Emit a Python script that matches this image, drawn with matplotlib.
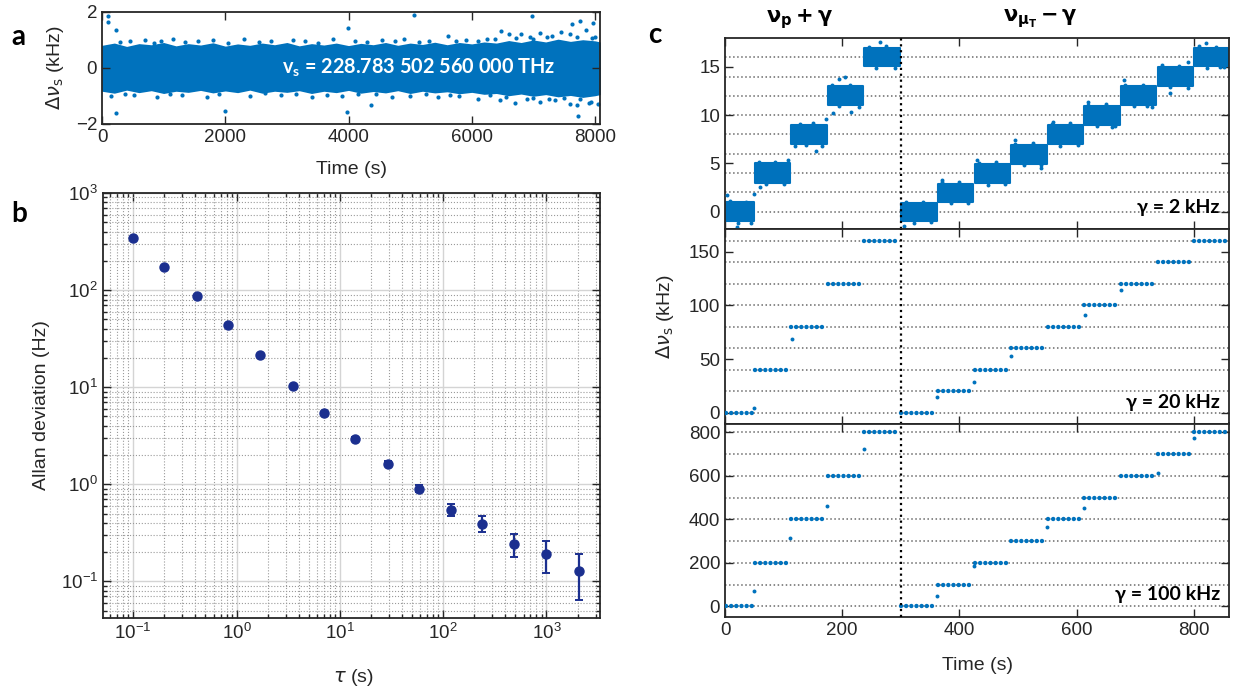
import matplotlib.pyplot as plt
import numpy as np

plt.rcParams["font.family"] = "Liberation Sans"
plt.rcParams["font.size"] = 13.5
plt.rcParams["axes.linewidth"] = 1.3

blue = "#0072BD"
navy = "#1B2F8F"
ink = "#262626"

# ---------------- panel a : frequency record (band envelope + scattered points)
a_env_t = [0, 200, 400, 600, 800, 1000, 1200, 1400, 1600, 1800, 2000, 2200, 2400, 2600, 2800,
           3000, 3200, 3400, 3600, 3800, 4000, 4200, 4400, 4600, 4800, 5000, 5200, 5400, 5600,
           5800, 6000, 6200, 6400, 6600, 6800, 7000, 7200, 7400, 7600, 7800, 8000, 8080]
a_env_hi = [0.78, 0.86, 0.74, 0.84, 0.80, 0.88, 0.76, 0.84, 0.79, 0.87, 0.75, 0.83, 0.78, 0.86,
            0.80, 0.88, 0.76, 0.84, 0.79, 0.86, 0.77, 0.85, 0.80, 0.88, 0.78, 0.86, 0.81, 0.89,
            0.80, 0.88, 0.83, 0.90, 0.86, 0.95, 0.88, 0.97, 0.90, 1.00, 0.92, 0.98, 0.94, 0.90]
a_env_lo = [-0.80, -0.87, -0.76, -0.85, -0.78, -0.88, -0.80, -0.84, -0.77, -0.86, -0.79, -0.85,
            -0.76, -0.87, -0.80, -0.84, -0.78, -0.88, -0.80, -0.85, -0.77, -0.87, -0.81, -0.86,
            -0.78, -0.88, -0.80, -0.86, -0.82, -0.89, -0.84, -0.91, -0.88, -0.96, -0.90, -0.98,
            -0.92, -1.00, -0.95, -1.02, -0.96, -0.92]
a_dot_t = [460, 700, 960, 1150, 1550, 1800, 2300, 2750, 3100, 3300, 3750, 4100, 4550, 4900, 5300, 5620,
           5900, 6250, 6480, 6600, 6800, 6950, 7100, 7300, 7450, 7600, 7850, 8000,
           300, 850, 1350, 2050, 2550, 3500, 4300, 4750, 5150, 5750, 6100, 6380, 6720, 7000, 7220, 7700, 7950,
           150, 520, 900, 1300, 1700, 2400, 2900, 3400, 3900, 4700, 5000, 5450, 5800, 6100, 6450,
           6700, 6900, 7100, 7350, 7600, 7900, 8050,
           380, 1100, 1900, 2650, 3150, 3650, 4150, 4450, 5250, 5650, 6300, 6550, 7000, 7250, 7500, 7750,
           90, 90, 225, 225, 2000, 3990, 3980, 4370, 5060, 6980, 7630, 7760, 7970, 7730, 7700, 7940]
a_dot_v = [0.98, 1.0, 0.95, 1.02, 0.98, 1.0, 1.05, 0.97, 1.0, 0.95, 1.02, 0.98, 1.0, 1.05, 0.98, 1.15,
           1.0, 1.05, 1.32, 1.2, 1.21, 1.1, 1.25, 1.15, 1.3, 1.2, 1.35, 1.1,
           0.92, 0.9, 0.93, 0.91, 0.94, 0.9, 0.92, 0.95, 0.93, 0.96, 0.98, 1.05, 1.08, 1.02, 1.12, 1.1, 1.06,
           -1.0, -0.98, -1.05, -0.97, -1.02, -1.0, -0.98, -1.05, -1.0, -1.02, -1.0, -1.05, -1.0, -1.1, -1.15,
           -1.25, -1.1, -1.2, -1.15, -1.3, -1.25, -1.3,
           -0.93, -0.92, -0.94, -0.91, -0.93, -0.95, -0.92, -0.94, -0.93, -0.96, -0.98, -1.05, -1.08,
           -1.12, -1.06, -1.1,
           1.86, 1.64, 1.36, -1.6, -1.55, 1.44, -1.58, -1.32, 1.88, 1.86, 1.56, 1.68, 1.6, -1.72, -1.32, -1.21]

# ---------------- panel b : Allan deviation
tau = [0.1, 0.2, 0.41, 0.83, 1.7, 3.5, 7.0, 14, 29, 59, 118, 240, 490, 1000, 2050]
adev = [346, 173, 87, 43.5, 21.7, 10.4, 5.4, 2.96, 1.63, 0.90, 0.55, 0.39, 0.24, 0.19, 0.128]
adev_lo = [346, 173, 87, 43.5, 21.7, 10.4, 5.4, 2.86, 1.53, 0.83, 0.47, 0.32, 0.178, 0.122, 0.064]
adev_hi = [346, 173, 87, 43.5, 21.7, 10.4, 5.4, 3.06, 1.73, 0.98, 0.62, 0.47, 0.305, 0.26, 0.193]

# ---------------- panel c : step sequences
t_left = [0, 50, 112, 175, 237, 300]
t_right = [300, 362, 425, 487, 550, 612, 675, 737, 800, 860]

c1_left_lo = [-1.0, 3.0, 7.0, 11.1, 15.1]
c1_left_hi = [0.95, 5.0, 9.0, 13.0, 17.0]
c1_right_lo = [-1.0, 1.0, 2.95, 4.95, 7.0, 9.0, 11.05, 13.05, 15.1]
c1_right_hi = [0.9, 2.9, 4.9, 6.9, 8.95, 10.95, 13.0, 15.0, 17.0]
c1_dot_t = [3, 20, 50, 60, 108, 120, 155, 172, 185, 195, 205, 215, 265,
            305, 370, 430, 495, 540, 560, 620, 660, 680, 720, 760, 790, 820, 845,
            8, 22, 35, 44, 58, 70, 85, 100, 128, 138, 150, 166, 183, 194, 213, 228,
            245, 258, 275, 290, 308, 322, 338, 352, 370, 385, 400, 415, 433, 448, 462, 478,
            495, 510, 525, 540, 558, 572, 588, 603, 620, 635, 650, 665, 683, 698, 713, 728,
            745, 760, 775, 790, 808, 822, 838, 852]
c1_dot_v = [1.7, -1.6, 1.8, 2.6, 5.4, 6.8, 6.3, 9.6, 10.2, 13.7, 14.0, 10.3, 17.6,
            -1.5, 3.3, 5.4, 7.4, 4.5, 9.3, 11.4, 8.8, 13.6, 10.9, 12.3, 15.5, 17.5, 15.0,
            1.1, -1.2, 1.05, -1.15, 5.15, 2.85, 5.1, 2.9, 9.1, 6.9, 9.15, 6.85, 13.1, 10.9, 13.15, 10.85,
            17.1, 14.9, 17.15, 14.85, 1.05, -1.15, 1.0, -1.1, 3.05, 0.85, 3.1, 0.9, 5.05, 2.8, 5.1, 2.85,
            7.05, 4.8, 7.1, 4.85, 9.1, 6.85, 9.15, 6.9, 11.1, 8.85, 11.15, 8.9, 13.1, 10.9, 13.15, 10.85,
            15.15, 12.9, 15.1, 12.85, 17.15, 14.9, 17.1, 14.95]
c1_grid = [0, 2, 4, 6, 8, 10, 12, 14, 16]

c2_left = [0, 40, 80, 120, 160]
c2_right = [0, 20, 40, 60, 80, 100, 120, 140, 160]
c2_dot_t = [49, 114, 362, 425, 488, 614, 675]
c2_dot_v = [4, 69, 15, 29, 53, 91, 114]
c2_grid = [0, 20, 40, 60, 80, 100, 120, 140, 160]

c3_left = [0, 200, 400, 600, 800]
c3_right = [0, 100, 200, 300, 400, 500, 600, 700, 800]
c3_dot_t = [49, 111, 174, 238, 362, 425, 549, 612, 738, 801]
c3_dot_v = [71, 315, 462, 725, 46, 187, 366, 451, 614, 775]
c3_grid = [0, 100, 200, 300, 400, 500, 600, 700, 800]

W, H = 1238, 692
fig = plt.figure(figsize=(W / 100, H / 100), dpi=100)


def box(x0, y0, x1, y1):
    return [x0 / W, 1 - y1 / H, (x1 - x0) / W, (y1 - y0) / H]


def style(ax):
    ax.tick_params(which="both", direction="in", top=True, right=True, colors=ink,
                   labelcolor=ink, width=1.0)
    ax.tick_params(which="major", length=6)
    ax.tick_params(which="minor", length=3)
    for s in ax.spines.values():
        s.set_color(ink)


bold = dict(family=["Lato", "DejaVu Sans"], fontweight="bold")

# ---- a
axa = fig.add_axes(box(102, 12, 600, 124))
axa.fill_between(a_env_t, a_env_lo, a_env_hi, color=blue, lw=1.2, edgecolor=blue)
axa.scatter(a_dot_t, a_dot_v, s=9, color=blue, lw=0)
axa.set_xlim(0, 8080)
axa.set_ylim(-2, 2)
axa.set_xticks([0, 2000, 4000, 6000, 8000])
axa.set_yticks([-2, 0, 2])
style(axa)
axa.text(0.362, 0.5, r"v$_\mathregular{s}$ = 228.783 502 560 000 THz", transform=axa.transAxes,
         color="white", fontsize=14.3, va="center", ha="left", **bold)
fig.text(55 / W, 1 - 68 / H, r"$\Delta\nu_{\mathrm{s}}$ (kHz)", rotation=90, ha="center", va="center",
         fontsize=14, color=ink)
fig.text(351 / W, 1 - 170 / H, "Time (s)", ha="center", va="center", fontsize=14, color=ink)

# ---- b
axb = fig.add_axes(box(103, 193, 600, 618))
axb.set_xscale("log")
axb.set_yscale("log")
yerr = [np.array(adev) - np.array(adev_lo), np.array(adev_hi) - np.array(adev)]
axb.errorbar(tau, adev, yerr=yerr, fmt="o", ms=6.5, color=navy, ecolor=navy,
             elinewidth=1.6, capsize=3, capthick=1.4, zorder=5)
axb.set_xlim(0.051, 3300)
axb.set_ylim(0.042, 1000)
axb.set_xticks([0.1, 1, 10, 100, 1000])
axb.set_yticks([0.1, 1, 10, 100, 1000])
axb.grid(which="major", ls="-", color="#d4d4d4", lw=1.0)
axb.grid(which="minor", ls=":", color="#9a9a9a", lw=0.8)
style(axb)
fig.text(42 / W, 1 - 405 / H, "Allan deviation (Hz)", rotation=90, ha="center", va="center",
         fontsize=14, color=ink)
fig.text(353 / W, 1 - 677 / H, r"$\tau$ (s)", ha="center", va="center", fontsize=14, color=ink)

# ---- c
c_boxes = [(725, 38, 1229, 229), (725, 229, 1229, 423.5), (725, 423.5, 1229, 617)]
c_ylims = [(-1.8, 18), (-10, 171), (-49, 840)]
c_yticks = [[0, 5, 10, 15], [0, 50, 100, 150], [0, 200, 400, 600, 800]]
c_grids = [c1_grid, c2_grid, c3_grid]
c_dots = [(c1_dot_t, c1_dot_v), (c2_dot_t, c2_dot_v), (c3_dot_t, c3_dot_v)]
c_text = [u"\u03b3 = 2 kHz", u"\u03b3 = 20 kHz", u"\u03b3 = 100 kHz"]
c_text_y = [0.115, 0.107, 0.114]
for i in range(3):
    ax = fig.add_axes(box(*c_boxes[i]))
    for g in c_grids[i]:
        ax.axhline(g, color="#6a6a6a", ls=":", lw=1.1, zorder=1)
    ax.axvline(300, color="black", ls=":", lw=1.6, zorder=4)
    if i == 0:
        for k in range(len(c1_left_lo)):
            ax.fill_between([t_left[k] + 1, t_left[k + 1] - 1], c1_left_lo[k], c1_left_hi[k],
                            color=blue, lw=1.5, edgecolor=blue, joinstyle="round", zorder=2)
        for k in range(len(c1_right_lo)):
            ax.fill_between([t_right[k] + 1, t_right[k + 1] - 1], c1_right_lo[k], c1_right_hi[k],
                            color=blue, lw=1.5, edgecolor=blue, joinstyle="round", zorder=2)
    else:
        lv_left = c2_left if i == 1 else c3_left
        lv_right = c2_right if i == 1 else c3_right
        for k in range(len(lv_left)):
            ax.plot([t_left[k] + 1, t_left[k + 1] - 1], [lv_left[k]] * 2, color=blue, lw=3.2,
                    ls=(0, (0.01, 1.15)), dash_capstyle="round", zorder=3)
        for k in range(len(lv_right)):
            ax.plot([t_right[k] + 1, t_right[k + 1] - 1], [lv_right[k]] * 2, color=blue, lw=3.2,
                    ls=(0, (0.01, 1.15)), dash_capstyle="round", zorder=3)
    ax.scatter(c_dots[i][0], c_dots[i][1], s=8, color=blue, lw=0, zorder=3)
    ax.set_xlim(0, 860)
    ax.set_ylim(*c_ylims[i])
    ax.set_xticks([0, 200, 400, 600, 800])
    ax.set_yticks(c_yticks[i])
    style(ax)
    if i < 2:
        ax.tick_params(labelbottom=False)
    ax.text(0.982, c_text_y[i], c_text[i], transform=ax.transAxes, ha="right", va="center",
            fontsize=14, color="black", zorder=6, **bold)

fig.text(665 / W, 1 - 317 / H, r"$\Delta\nu_{\mathrm{s}}$ (kHz)", rotation=90, ha="center", va="center",
         fontsize=14, color=ink)
fig.text(978 / W, 1 - 666 / H, "Time (s)", ha="center", va="center", fontsize=14, color=ink)
fig.text(800 / W, 1 - 19 / H, u"$\\mathbf{\u03bd_p + \u03b3}$", ha="center", va="center",
         fontsize=15, math_fontfamily="dejavusans")
fig.text(1040 / W, 1 - 19 / H, u"$\\mathbf{\u03bd_{\u03bc_T} - \u03b3}$",
         ha="center", va="center", fontsize=15, math_fontfamily="dejavusans")

# panel letters
fig.text(18 / W, 1 - 37 / H, "a", ha="center", va="center", fontsize=20, **bold)
fig.text(19 / W, 1 - 214 / H, "b", ha="center", va="center", fontsize=20, **bold)
fig.text(655 / W, 1 - 35 / H, "c", ha="center", va="center", fontsize=20, **bold)

fig.savefig("out.png", dpi=100)
